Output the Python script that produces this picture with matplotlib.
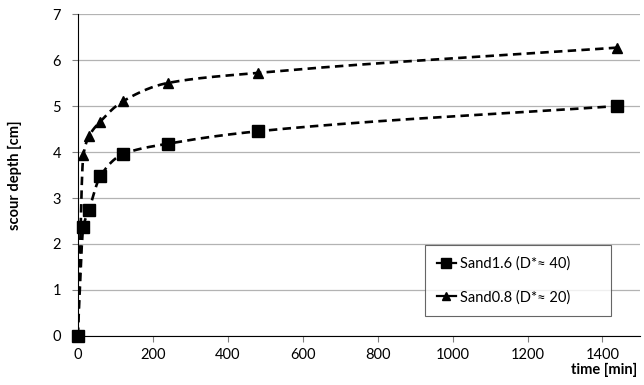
import numpy as np
import matplotlib
matplotlib.use("Agg")
import matplotlib.pyplot as plt
from matplotlib.lines import Line2D

plt.rcParams["font.family"] = ["Lato", "DejaVu Sans"]

# ---- data ------------------------------------------------------------
time_min = [0, 15, 30, 60, 120, 240, 480, 1440]
sand16 = [0.0, 2.37, 2.74, 3.47, 3.95, 4.18, 4.45, 5.0]
sand08 = [0.0, 3.93, 4.34, 4.66, 5.10, 5.50, 5.72, 6.27]
labels = ["Sand1.6 (D*\u2248 40)", "Sand0.8 (D*\u2248 20)"]


def smooth(x, y, n=40):
    # monotone cubic through the points (stands in for Excel's smoothed line)
    x = np.asarray(x, float); y = np.asarray(y, float)
    h = np.diff(x); d = np.diff(y) / h
    m = np.zeros_like(y)
    m[0], m[-1] = d[0], d[-1]
    for i in range(1, len(x) - 1):
        if d[i - 1] * d[i] > 0:
            w1 = 2 * h[i] + h[i - 1]; w2 = h[i] + 2 * h[i - 1]
            m[i] = (w1 + w2) / (w1 / d[i - 1] + w2 / d[i])
    xs, ys = [], []
    for i in range(len(x) - 1):
        t = np.linspace(0, 1, n)
        h00 = 2 * t**3 - 3 * t**2 + 1; h10 = t**3 - 2 * t**2 + t
        h01 = -2 * t**3 + 3 * t**2; h11 = t**3 - t**2
        xs.extend(x[i] + t * h[i])
        ys.extend(h00 * y[i] + h10 * h[i] * m[i] + h01 * y[i + 1] + h11 * h[i] * m[i + 1])
    return xs, ys


fig = plt.figure(figsize=(6.44, 3.85), dpi=100)
ax = fig.add_axes([0.1207, 0.1273, 0.873, 0.8363])

for ys, mk, ms in ((sand16, "s", 8), (sand08, "^", 7)):
    cx, cy = smooth(time_min, ys)
    ax.plot(cx, cy, color="black", lw=1.9, dashes=(3.2, 2.0), zorder=2)
    ax.plot(time_min, ys, ls="none", marker=mk, ms=ms, color="black",
            clip_on=False, zorder=3)

ax.set_xlim(0, 1500)
ax.set_ylim(0, 7)
ax.set_xticks(range(0, 1401, 200))
ax.set_yticks(range(0, 8))
ax.tick_params(labelsize=10.5, length=4, color="#808080")
ax.tick_params(axis="x", pad=5)
ax.tick_params(axis="y", pad=8)
ax.grid(axis="y", color="#b3b3b3", lw=0.9)
ax.set_axisbelow(True)
for s in ("top", "right"):
    ax.spines[s].set_visible(False)
ax.spines["left"].set_color("black")
ax.spines["bottom"].set_color("black")

ax.set_ylabel("scour depth [cm]", fontsize=10.5, fontweight="bold", labelpad=22)
fig.text(0.989, 0.022, "time [min]", fontsize=10.5, fontweight="bold",
         ha="right", va="bottom")

handles = [Line2D([], [], color="black", lw=1.6, marker="s", ms=7),
           Line2D([], [], color="black", lw=1.6, marker="^", ms=6)]
leg = ax.legend(handles, labels, loc="lower left",
                bbox_to_anchor=(0.618, 0.062, 0.33, 0.23), mode="expand",
                fontsize=10.5, frameon=True, fancybox=False, handlelength=1.3,
                handletextpad=0.3, labelspacing=1.3, borderpad=0.8,
                borderaxespad=0)
leg.get_frame().set_edgecolor("#404040")
leg.get_frame().set_linewidth(0.8)

fig.savefig("out.png", dpi=100)
